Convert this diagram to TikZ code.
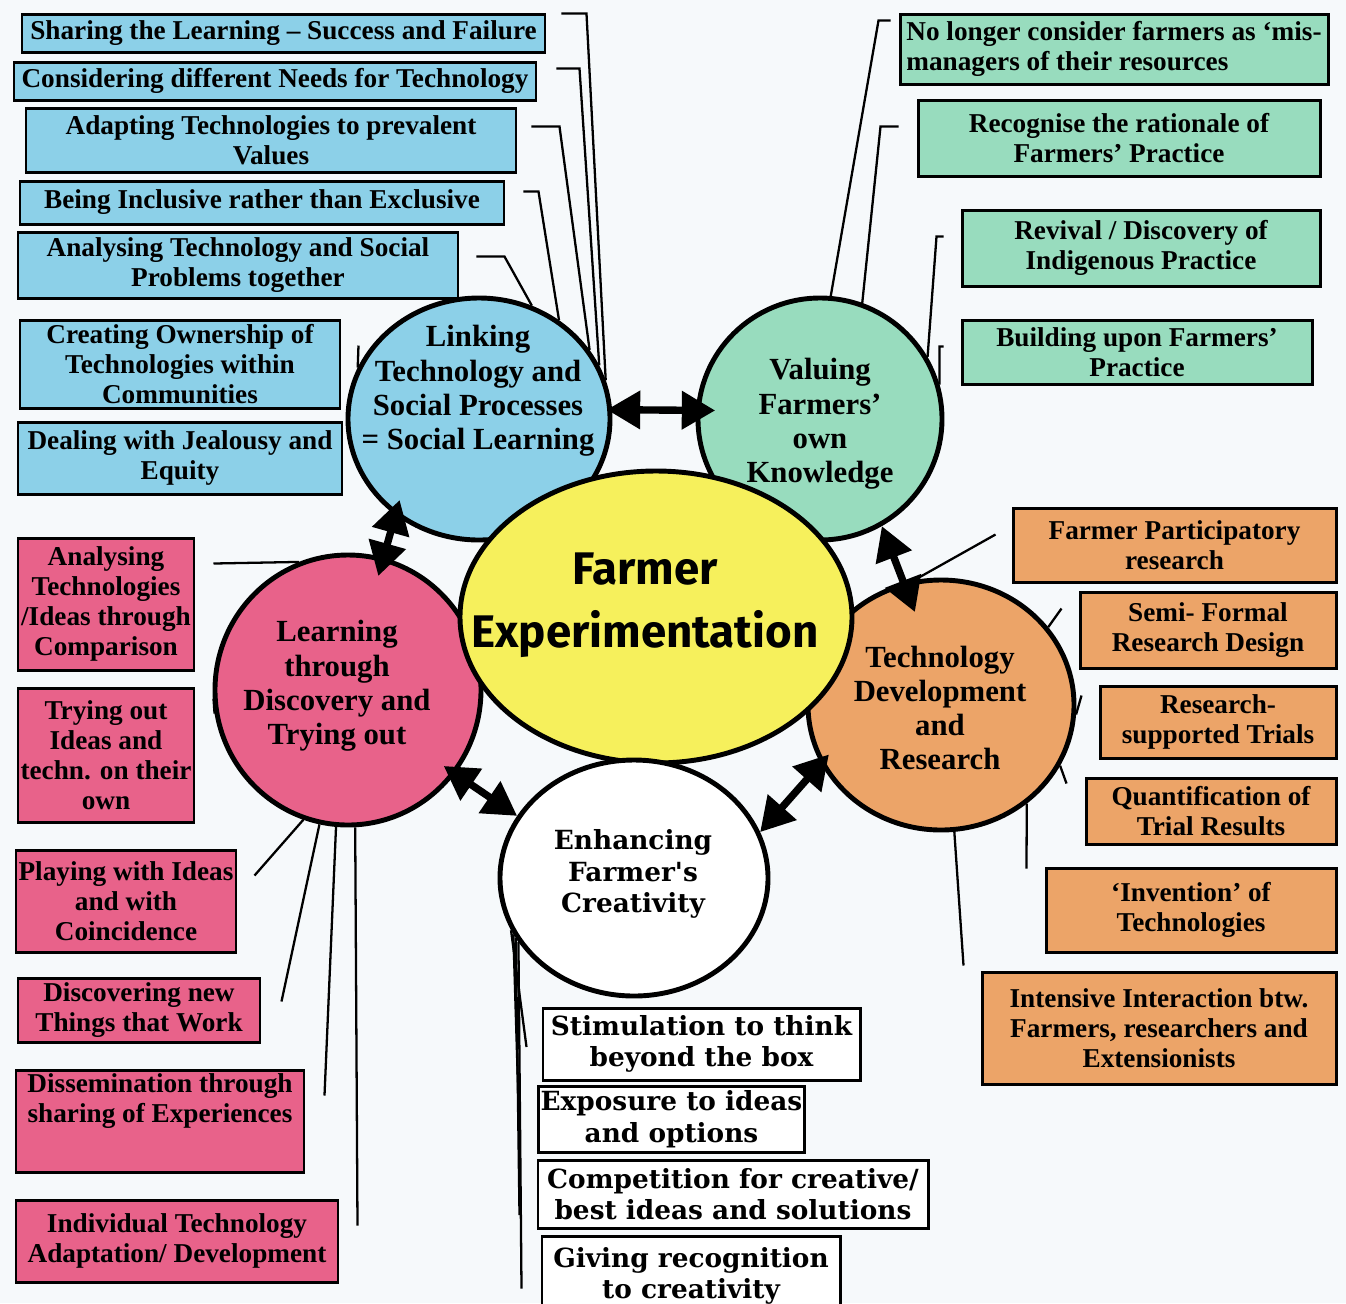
\documentclass[tikz,border=0pt]{standalone}
\usepackage{fontspec}
\setmainfont{Liberation Serif}
\newfontfamily\fexfont{Fira Sans}
\newfontfamily\slabfont{DejaVu Serif}
\usetikzlibrary{shapes.geometric,arrows.meta,calc}

\definecolor{bg}{RGB}{246,249,251}
\definecolor{blu}{RGB}{140,208,232}
\definecolor{tea}{RGB}{152,220,190}
\definecolor{pnk}{RGB}{232,98,138}
\definecolor{org}{RGB}{236,164,104}
\definecolor{yel}{RGB}{246,240,92}

\newcommand{\boxfont}{\bfseries\fontsize{15.5}{17}\selectfont}
\newcommand{\circfont}{\bfseries\fontsize{17.5}{19.5}\selectfont}
\newcommand{\slabtext}{\slabfont\bfseries\fontsize{15}{18}\selectfont}
\newcommand{\fextext}{\fexfont\bfseries\fontsize{26}{36}\selectfont}

\tikzset{
  sz/.style 2 args={minimum width=#1*0.02cm, minimum height=#2*0.02cm},
  box/.style={draw, line width=1.7pt, inner sep=1pt, align=center, font=\boxfont},
  blubox/.style={box, fill=blu},
  teabox/.style={box, fill=tea},
  orgbox/.style={box, fill=org},
  pnkbox/.style={box, fill=pnk},
  wbox/.style={draw, line width=1.7pt, fill=white, inner sep=1pt, align=center, font=\slabtext},
  circ/.style={ellipse, draw, line width=2.8pt, inner sep=0pt},
  ctext/.style={align=center, font=\circfont, inner sep=0pt},
  con/.style={line width=1.3pt},
  dbl/.style={line width=4.2pt, {Triangle[length=19pt,width=21pt]}-{Triangle[length=19pt,width=21pt]}}
}

\begin{document}
\begin{tikzpicture}[x=0.02cm, y=-0.02cm]
  \useasboundingbox (0,0) rectangle (1346,1303);
  \fill[bg] (0,0) rectangle (1346,1303);

  % blue boxes
  \node[blubox, sz={523}{38}] (share) at (283.5,33) {Sharing the Learning -- Success and Failure};
  \node[blubox, sz={522}{38}] (needs) at (275,81) {Considering different Needs for Technology};
  \node[blubox, sz={490}{64}] (adapt) at (271,140) {Adapting Technologies to prevalent\\Values};
  \node[blubox, sz={484}{43}] (incl) at (262,202.5) {Being Inclusive rather than Exclusive};
  \node[blubox, sz={440}{66}] (anal) at (238,265) {Analysing Technology and Social\\Problems together};
  \node[blubox, sz={320}{88}] (own) at (180,364) {Creating Ownership of\\Technologies within\\Communities};
  \node[blubox, sz={324}{72}] (jeal) at (180,458) {Dealing with Jealousy and\\Equity};

  % green boxes
  \node[teabox, sz={428}{70}, align=left] (mism) at (1114,49) {No longer consider farmers as `mis-\\managers of their resources};
  \node[teabox, sz={402}{76}] (ratio) at (1119,138) {Recognise the rationale of\\Farmers' Practice};
  \node[teabox, sz={358}{76}] (reviv) at (1141,248) {Revival / Discovery of\\Indigenous Practice};
  \node[teabox, sz={350}{64}] (build) at (1137,352) {Building upon Farmers'\\Practice};

  % orange boxes
  \node[orgbox, sz={323}{74}] (fpr) at (1174.5,545) {Farmer Participatory\\research};
  \node[orgbox, sz={256}{76}] (semi) at (1208,630) {Semi- Formal\\Research Design};
  \node[orgbox, sz={236}{72}] (rst) at (1218,722) {Research-\\supported Trials};
  \node[orgbox, sz={250}{66}] (quant) at (1211,811) {Quantification of\\Trial Results};
  \node[orgbox, sz={290}{84}] (invent) at (1191,910) {`Invention' of\\Technologies};
  \node[orgbox, sz={354}{112}] (inter) at (1159,1028) {Intensive Interaction btw.\\Farmers, researchers and\\Extensionists};

  % pink boxes
  \node[pnkbox, sz={176}{132}] (comp) at (106,604) {Analysing\\Technologies\\/Ideas through\\Comparison};
  \node[pnkbox, sz={176}{134}] (try) at (106,755) {Trying out\\Ideas and\\techn. on their\\own};
  \node[pnkbox, sz={220}{102}] (play) at (126,901) {Playing with Ideas\\and with\\Coincidence};
  \node[pnkbox, sz={242}{64}] (disc) at (139,1010) {Discovering new\\Things that Work};
  \node[pnkbox, sz={288}{102}, text depth=26pt] (diss) at (160,1121) {Dissemination through\\sharing of Experiences};
  \node[pnkbox, sz={322}{82}] (indiv) at (177,1241) {Individual Technology\\Adaptation/ Development};

  % white boxes
  \node[wbox, sz={317}{72}] (stim) at (701.5,1044) {Stimulation to think\\beyond the box};
  \node[wbox, sz={263}{66}] (expo) at (671.5,1119) {Exposure to ideas\\and options};
  \node[wbox, sz={390}{68}] (compe) at (733,1194) {Competition for creative/\\best ideas and solutions};
  \node[wbox, sz={298}{80}] (recog) at (691,1276) {Giving recognition\\to creativity};

  % circles
  \node[circ, fill=blu, sz={262}{242}] (lnk) at (479,419) {};
  \node[circ, fill=tea, sz={244}{242}] (val) at (820,419) {};
  \node[circ, fill=pnk, sz={266}{270}] (lrn) at (348,690) {};
  \node[circ, fill=org, sz={266}{250}] (tdr) at (941,705) {};

  % connectors
  \draw[con] (share.north east) ++(15,1) -- ++(25,0) -- (lnk.17);
  \draw[con] (needs.north east) ++(19,8) -- ++(23,0) -- (lnk.24);
  \draw[con] (adapt.north east) ++(14,20) -- ++(28,0) -- (lnk.32);
  \draw[con] (incl.north east) ++(18,12) -- ++(15,0) -- (lnk.51);
  \draw[con] (anal.north east) ++(17,26) -- ++(28,0) -- (lnk.65);
  \draw[con] (own.north east) ++(17,27) -- (lnk.157);

  \draw[con] (mism.north west) ++(-8,8) -- ++(-12,0) -- (val.85);
  \draw[con] (ratio.north west) ++(-18,28) -- ++(-18,0) -- (val.70);
  \draw[con] (reviv.north west) ++(-17,28) -- ++(-7,0) -- (val.30);
  \draw[con] (build.north west) ++(-17,28) -- ++(-4,0) -- (val.16);

  \draw[con] (fpr.north west) ++(-16,28) -- (tdr.102);
  \draw[con] (tdr.36) -- ($(semi.north west)+(-17,18)$);
  \draw[con] (tdr.-4) -- ($(rst.north west)+(-17,11)$);
  \draw[con] (tdr.-27) -- ($(quant.north west)+(-18,7)$);
  \draw[con] (tdr.-49) -- ($(invent.north west)+(-18,2)$);
  \draw[con] (tdr.-84) -- ($(inter.north west)+(-17,-5)$);

  \draw[con] (comp.north east) ++(18,27) -- (lrn.111);
  \draw[con] (try.north east) ++(18,12) -- (lrn.190);
  \draw[con] (play.north east) ++(17,27) -- (lrn.-109);
  \draw[con] (disc.north east) ++(20,25) -- (lrn.-102);
  \draw[con] (diss.north east) ++(19,27) -- (lrn.-95);
  \draw[con] (indiv.north east) ++(18,27) -- (lrn.-87);

  % centre
  \node[circ, fill=yel, sz={392}{292}] (fex) at (656,617) {};
  \node[circ, fill=white, sz={268}{236}] (enh) at (634,878) {};

  \draw[con] (enh.203) -- ($(stim.west)+(-15,3)$);
  \draw[con] (enh.205) -- ($(expo.west)+(-18,13)$);
  \draw[con] (enh.207) -- ($(compe.west)+(-17,21)$);
  \draw[con] (enh.209) -- ($(recog.north west)+(-19,54)$);

  % double arrows
  \draw[dbl, shorten <=-3pt, shorten >=-11pt] (lnk.4) -- (val.176);
  \draw[dbl, shorten <=-9pt, shorten >=-11pt] (lnk.229) -- (lrn.75);
  \draw[dbl, shorten >=-18pt] (val.-60) -- (tdr.107);
  \draw[dbl, shorten <=-8pt] (lrn.-38) -- (enh.152);
  \draw[dbl, shorten <=-7pt] (tdr.206) -- (enh.20);

  % labels
  \node[ctext] (lnk-t) at (478,391) {Linking\\Technology and\\Social Processes\\= Social Learning};
  \node[ctext] (val-t) at (820,424) {Valuing\\Farmers'\\own\\Knowledge};
  \node[ctext] (lrn-t) at (337,686) {Learning\\through\\Discovery and\\Trying out};
  \node[ctext] (tdr-t) at (940,708) {Technology\\Development\\and\\Research};
  \node[font=\fextext, align=center, inner sep=0pt] (fex-t) at (645,605) {Farmer\\Experimentation};
  \node[font=\slabtext, align=center, inner sep=0pt] (enh-t) at (633,874) {Enhancing\\Farmer's\\Creativity};
\end{tikzpicture}
\end{document}
